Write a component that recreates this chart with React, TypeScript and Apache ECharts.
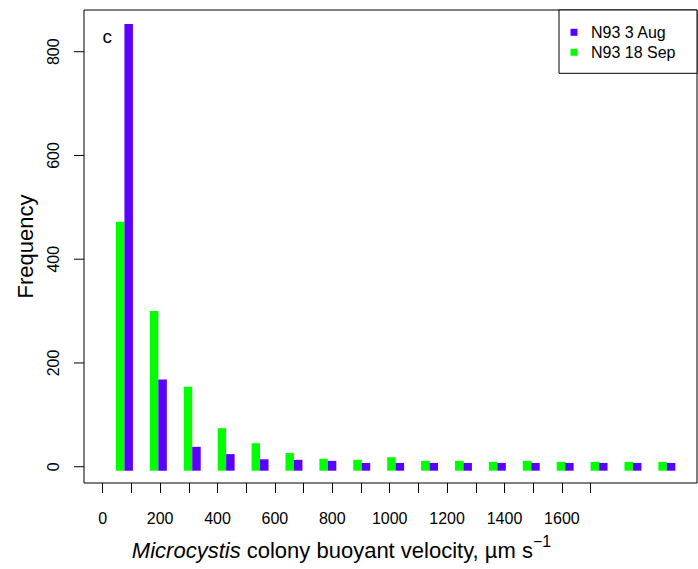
import { useEffect, useRef } from "react";
import * as echarts from "echarts";

// Velocity bins (lower edge, µm s⁻¹), 100-wide
const binStarts = [
  "0", "100", "200", "300", "400", "500", "600", "700", "800",
  "900", "1000", "1100", "1200", "1300", "1400", "1500", "1600",
];

// Colony counts per bin
const sep18Counts = [480, 308, 162, 82, 53, 34, 23, 21, 26, 19, 19, 17, 19, 17, 17, 17, 17];
const aug3Counts = [861, 176, 46, 32, 22, 21, 19, 15, 15, 15, 15, 15, 15, 15, 15, 15, 15];

const seriesNames = ["N93 3 Aug", "N93 18 Sep"];

const xTickValues = [0, 100, 200, 300, 400, 500, 600, 700, 800, 900, 1000, 1100, 1200, 1300, 1400, 1500, 1600, 1700];
const xLabelValues = [0, 200, 400, 600, 800, 1000, 1200, 1400, 1600];
const yTickValues = [0, 200, 400, 600, 800];

const FONT = '"Liberation Sans", Arial, Helvetica, sans-serif';
const PURPLE = "#5a00ff";
const GREEN = "#00ff00";
const PLOT_LEFT = 84;
const TICK_LEN = 10;

export default function App() {
  const ref = useRef<HTMLDivElement>(null);

  useEffect(() => {
    const chart = echarts.init(ref.current!, null, { renderer: "svg" });

    const panelTag = {
      id: "panel-tag",
      type: "text",
      x: 107.2,
      y: 36.1,
      style: {
        text: "c",
        fontSize: 19,
        fontFamily: FONT,
        fill: "#000",
        align: "center",
        verticalAlign: "middle",
      },
    };
    const xTitle = {
      id: "x-title",
      type: "text",
      x: 341.5,
      y: 533,
      style: {
        text: "{i|Microcystis} colony buoyant velocity, µm s{sup|−1}",
        fontSize: 22,
        lineHeight: 35,
        fontFamily: FONT,
        fill: "#000",
        align: "center",
        verticalAlign: "top",
        rich: {
          i: { fontStyle: "italic", fontSize: 22, lineHeight: 35, fontFamily: FONT, fill: "#000" },
          sup: { fontSize: 16, lineHeight: 16, verticalAlign: "top", fontFamily: FONT, fill: "#000" },
        },
      },
    };

    chart.setOption({
      animation: false,
      backgroundColor: "#ffffff",
      textStyle: { fontFamily: FONT, color: "#000" },
      grid: [
        // framed plot region
        {
          left: PLOT_LEFT,
          top: 10,
          width: 613,
          height: 473,
          show: true,
          borderColor: "#000",
          borderWidth: 1,
          backgroundColor: "transparent",
        },
        // bar layout region
        { left: 107.5, top: 10, width: 576.3, height: 473, show: false },
      ],
      xAxis: [
        {
          type: "value",
          gridIndex: 0,
          position: "bottom",
          min: -65.2,
          max: 2070.7,
          axisLine: { show: false, onZero: false },
          splitLine: { show: false },
          axisTick: {
            show: true,
            inside: false,
            length: TICK_LEN,
            customValues: xTickValues,
            lineStyle: { color: "#000", width: 1 },
          },
          axisLabel: {
            customValues: xLabelValues,
            formatter: (v: number) => String(v),
            margin: 27,
            fontSize: 16,
            color: "#000",
            fontFamily: FONT,
          },
        },
        {
          type: "category",
          gridIndex: 1,
          data: binStarts,
          show: false,
          boundaryGap: true,
        },
      ],
      yAxis: [
        {
          type: "value",
          gridIndex: 0,
          position: "left",
          min: -31.4,
          max: 880.4,
          axisLine: { show: false, onZero: false },
          axisTick: { show: false },
          splitLine: { show: false },
          axisLabel: {
            customValues: yTickValues,
            formatter: (v: number) => String(v),
            rotate: 90,
            margin: 23,
            fontSize: 16,
            color: "#000",
            fontFamily: FONT,
          },
          name: "Frequency",
          nameLocation: "middle",
          nameRotate: 90,
          nameGap: 47.5,
          nameTextStyle: { fontSize: 22, color: "#000", fontFamily: FONT },
        },
        {
          type: "value",
          gridIndex: 1,
          min: -23.7,
          max: 888.1,
          show: false,
        },
      ],
      legend: {
        data: seriesNames,
        orient: "vertical",
        left: 559,
        top: 10,
        icon: "rect",
        itemWidth: 7,
        itemHeight: 7,
        itemGap: 4,
        padding: [14.3, 21.5, 13, 11.5],
        borderColor: "#000",
        borderWidth: 1,
        borderRadius: 0,
        backgroundColor: "#fff",
        textStyle: {
          fontSize: 16,
          color: "#000",
          fontFamily: FONT,
          lineHeight: 16,
          padding: [0, 0, 0, 8.5],
        },
      },
      series: [
        {
          name: "N93 18 Sep",
          type: "bar",
          xAxisIndex: 1,
          yAxisIndex: 1,
          data: sep18Counts,
          barGap: "0%",
          barCategoryGap: "50%",
          itemStyle: { color: GREEN },
        },
        {
          name: "N93 3 Aug",
          type: "bar",
          xAxisIndex: 1,
          yAxisIndex: 1,
          data: aug3Counts,
          barGap: "0%",
          barCategoryGap: "50%",
          itemStyle: { color: PURPLE },
        },
      ],
      graphic: [panelTag, xTitle],
    });

    // Outward tick marks on the frequency axis, placed through the axis scale
    const tickMarks = yTickValues.map((v, i) => {
      const py = chart.convertToPixel({ yAxisIndex: 0 }, v) as number;
      return {
        id: "ytick-" + i,
        type: "line",
        silent: true,
        shape: { x1: PLOT_LEFT - TICK_LEN, y1: py, x2: PLOT_LEFT, y2: py },
        style: { stroke: "#000", lineWidth: 1 },
        z: 10,
      };
    });
    chart.setOption({ graphic: [panelTag, xTitle, ...tickMarks] });

    return () => chart.dispose();
  }, []);

  return (
    <div
      ref={ref}
      style={{ position: "fixed", left: 0, top: 0, width: 698, height: 569 }}
    />
  );
}
